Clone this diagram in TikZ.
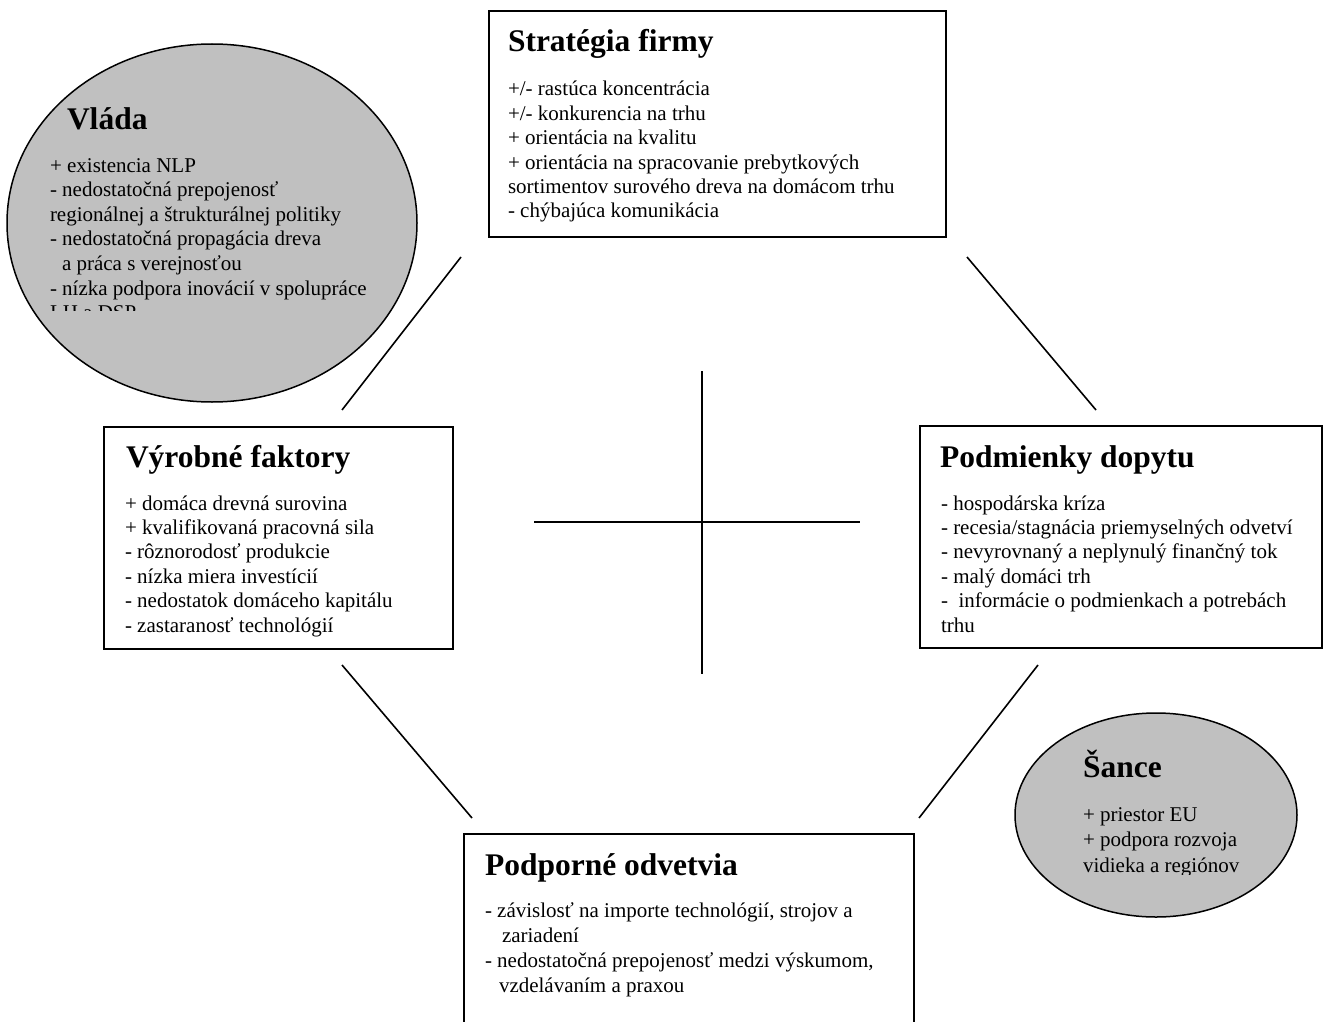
\documentclass[tikz,border=0pt]{standalone}
\usepackage{fontspec}
\setmainfont{Liberation Serif}
\usetikzlibrary{shapes.geometric}
\definecolor{ovalgray}{HTML}{C0C0C0}
\newcommand\bodyfnt{\fontsize{21}{24.4}\selectfont}
\newcommand\ttlfnt{\fontsize{31.5}{36}\selectfont\bfseries}
\tikzset{
  boxnode/.style={draw=black, line width=2pt, fill=white, inner sep=0pt, anchor=north west},
  ovalnode/.style={ellipse, draw=black, line width=1.5pt, fill=ovalgray, inner sep=0pt},
  txt/.style={inner sep=0pt, outer sep=0pt, anchor=base west, align=left},
  link/.style={line width=1.6pt, black}
}
\begin{document}
\begin{tikzpicture}[x=1pt, y=-1pt]
\clip (0,0) rectangle (1325,1022);
\fill[white] (0,0) rectangle (1325,1022);

% shapes
\node[boxnode, minimum width=457pt, minimum height=226pt] (strat) at (488,10) {};
\node[boxnode, minimum width=349pt, minimum height=222pt] (vyrob) at (103,426) {};
\node[boxnode, minimum width=402pt, minimum height=222pt] (dopyt) at (919,425) {};
\node[boxnode, minimum width=450pt, minimum height=250pt] (podp) at (463,833) {};
\node[ovalnode, minimum width=410pt, minimum height=358pt] (vlada) at (212,223) {};
\node[ovalnode, minimum width=282pt, minimum height=204pt] (sance) at (1156,815) {};

% connector end points
\coordinate (tlA) at (461,257);  \coordinate (tlB) at (342,410);
\coordinate (trA) at (967,257);  \coordinate (trB) at (1096,410);
\coordinate (blA) at (342,665);  \coordinate (blB) at (472,818);
\coordinate (brA) at (1038,665); \coordinate (brB) at (919,818);
\coordinate (vT) at (702,371);   \coordinate (vB) at (702,674);
\coordinate (hL) at (534,522);   \coordinate (hR) at (860,522);

\draw[link] (tlA) -- (tlB);
\draw[link] (trA) -- (trB);
\draw[link] (blA) -- (blB);
\draw[link] (brA) -- (brB);
\draw[link] (vT) -- (vB);
\draw[link] (hL) -- (hR);

% Strategia firmy
\node[txt] (strat-t) at (508,52) {\ttlfnt Stratégia firmy};
\node[txt] (strat-b) at (508,96) {\parbox[t]{440pt}{\raggedright\bodyfnt
+/- rastúca koncentrácia\\
+/- konkurencia na trhu\\
+ orientácia na kvalitu\\
+ orientácia na spracovanie prebytkových\\
sortimentov surového dreva na domácom trhu\\
- chýbajúca komunikácia}};

% Vlada
\begin{scope}
\clip (0,0) rectangle (440,310);
\node[txt] (vlada-t) at (67,130) {\ttlfnt Vláda};
\node[txt] (vlada-b) at (50,172) {\parbox[t]{400pt}{\raggedright\fontsize{21}{24.6}\selectfont
+ existencia NLP\\
- nedostatočná prepojenosť\\
regionálnej a štrukturálnej politiky\\
- nedostatočná propagácia dreva\\
\hspace*{12pt}a práca s verejnosťou\\
- nízka podpora inovácií v spolupráce\\
LH a DSP}};
\end{scope}

% Vyrobne faktory
\node[txt] (vyrob-t) at (126,467) {\ttlfnt Výrobné faktory};
\node[txt] (vyrob-b) at (125,510) {\parbox[t]{330pt}{\raggedright\bodyfnt
+ domáca drevná surovina\\
+ kvalifikovaná pracovná sila\\
- rôznorodosť produkcie\\
- nízka miera investícií\\
- nedostatok domáceho kapitálu\\
- zastaranosť technológií}};

% Podmienky dopytu
\node[txt] (dopyt-t) at (940,467) {\ttlfnt Podmienky dopytu};
\node[txt] (dopyt-b) at (941,510) {\parbox[t]{380pt}{\raggedright\bodyfnt
- hospodárska kríza\\
- recesia/stagnácia priemyselných odvetví\\
- nevyrovnaný a neplynulý finančný tok\\
- malý domáci trh\\
-\ \ informácie o podmienkach a potrebách\\
trhu}};

% Sance
\begin{scope}
\clip (1000,690) rectangle (1325,874);
\node[txt] (sance-t) at (1083,777) {\ttlfnt Šance};
\node[txt] (sance-b) at (1083,821) {\parbox[t]{230pt}{\raggedright\fontsize{21}{25.5}\selectfont
+ priestor EU\\
+ podpora rozvoja\\
vidieka a regiónov}};
\end{scope}

% Podporne odvetvia
\node[txt] (podp-t) at (485,875) {\ttlfnt Podporné odvetvia};
\node[txt] (podp-b) at (485,917) {\parbox[t]{420pt}{\raggedright\fontsize{21}{25.3}\selectfont
- závislosť na importe technológií, strojov a\\
\hspace*{17pt}zariadení\\
- nedostatočná prepojenosť medzi výskumom,\\
\hspace*{14pt}vzdelávaním a praxou}};
\end{tikzpicture}
\end{document}
